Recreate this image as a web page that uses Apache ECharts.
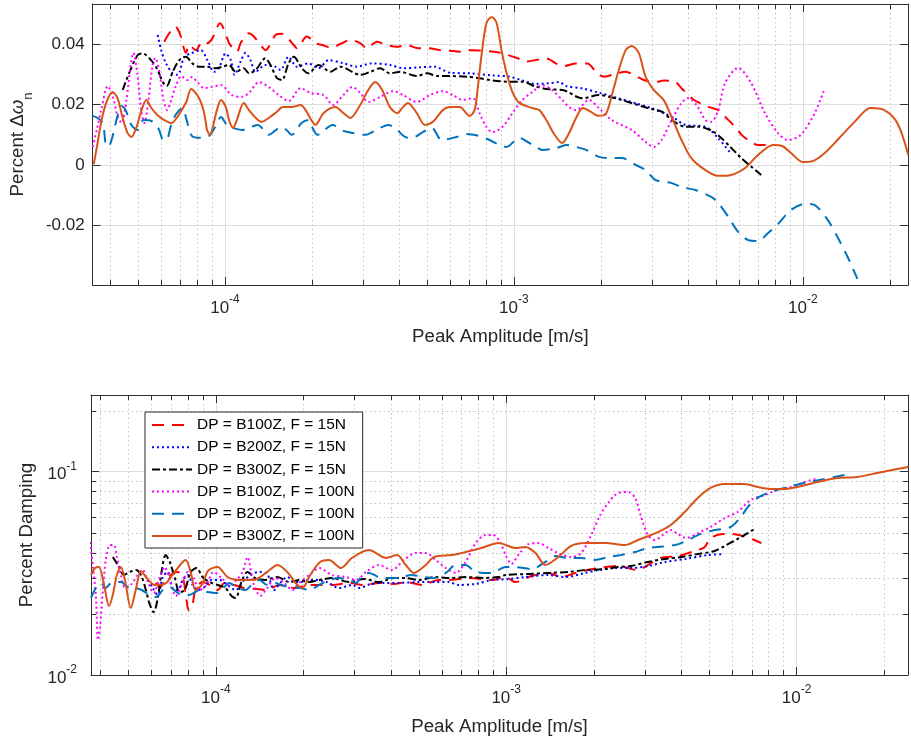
<!DOCTYPE html>
<html>
<head>
<meta charset="utf-8">
<script src="https://cdn.jsdelivr.net/npm/echarts@6/dist/echarts.min.js"></script>
<style>
  html, body { margin: 0; padding: 0; background: #ffffff; }
  #chart { width: 911px; height: 744px; }
</style>
</head>
<body>
<div id="chart"></div>
<script>
// Legend entries (damper package, forcing level)
const SERIES_NAMES = [
  'DP = B100Z, F = 15N', 'DP = B200Z, F = 15N', 'DP = B300Z, F = 15N',
  'DP = B100Z, F = 100N', 'DP = B200Z, F = 100N', 'DP = B300Z, F = 100N'
];

// ---- Upper panel: log10(peak amplitude [m/s]) and percent frequency shift ----
const topAmpB100F15 = [
  -4.210,-4.193,-4.172,-4.156,-4.135,-4.124,-4.101,-4.078,-4.061,-4.044,
  -4.017,-3.992,-3.986,-3.958,-3.946,-3.917,-3.900,-3.872,-3.860,-3.825,
  -3.803,-3.762,-3.751,-3.717,-3.705,-3.687,-3.664,-3.635,-3.595,-3.566,
  -3.532,-3.509,-3.474,-3.446,-3.406,-3.371,-3.331,-3.297,-3.256,-3.222,
  -3.188,-3.159,-3.067,-3.039,-2.987,-2.958,-2.912,-2.884,-2.855,-2.826,
  -2.786,-2.746,-2.712,-2.688,-2.643,-2.614,-2.574,-2.545,-2.505,-2.482,
  -2.442,-2.419,-2.384,-2.367,-2.327,-2.293,-2.264,-2.241,-2.212,-2.189,
  -2.155,-2.120];
const topShiftB100F15 = [
  0.0409,0.0437,0.0459,0.0435,0.0372,0.0398,0.0381,0.0409,0.0404,0.0420,
  0.0470,0.0420,0.0404,0.0376,0.0404,0.0437,0.0426,0.0392,0.0381,0.0431,
  0.0435,0.0398,0.0387,0.0426,0.0420,0.0404,0.0398,0.0390,0.0404,0.0415,
  0.0404,0.0387,0.0409,0.0400,0.0392,0.0398,0.0387,0.0387,0.0381,0.0379,
  0.0376,0.0381,0.0376,0.0370,0.0354,0.0343,0.0350,0.0352,0.0337,0.0328,
  0.0337,0.0337,0.0304,0.0293,0.0304,0.0309,0.0293,0.0280,0.0276,0.0280,
  0.0276,0.0254,0.0221,0.0210,0.0193,0.0182,0.0155,0.0133,0.0100,0.0083,
  0.0066,0.0066];

const topAmpB200F15 = [
  -4.233,-4.221,-4.204,-4.181,-4.164,-4.141,-4.118,-4.084,-4.061,-4.038,
  -4.021,-3.998,-3.980,-3.967,-3.946,-3.929,-3.912,-3.894,-3.860,-3.825,
  -3.808,-3.780,-3.751,-3.711,-3.676,-3.641,-3.589,-3.543,-3.492,-3.429,
  -3.383,-3.325,-3.274,-3.222,-3.153,-3.073,-3.015,-2.970,-2.924,-2.878,
  -2.843,-2.820,-2.763,-2.706,-2.637,-2.579,-2.522,-2.453,-2.407,-2.338,
  -2.293,-2.247];
const topShiftB200F15 = [
  0.0431,0.0381,0.0337,0.0304,0.0299,0.0359,0.0370,0.0381,0.0348,0.0309,
  0.0321,0.0370,0.0348,0.0299,0.0343,0.0372,0.0348,0.0309,0.0332,0.0326,
  0.0315,0.0359,0.0326,0.0337,0.0321,0.0348,0.0337,0.0326,0.0337,0.0332,
  0.0321,0.0324,0.0326,0.0306,0.0304,0.0297,0.0293,0.0280,0.0269,0.0271,
  0.0275,0.0262,0.0254,0.0240,0.0221,0.0205,0.0188,0.0160,0.0133,0.0127,
  0.0089,0.0036];

const topAmpB300F15 = [
  -4.354,-4.330,-4.302,-4.285,-4.256,-4.233,-4.216,-4.202,-4.181,-4.158,
  -4.135,-4.113,-4.090,-4.066,-4.032,-4.009,-3.986,-3.963,-3.935,-3.917,
  -3.894,-3.860,-3.843,-3.820,-3.803,-3.780,-3.762,-3.734,-3.711,-3.676,
  -3.635,-3.601,-3.532,-3.497,-3.463,-3.429,-3.394,-3.337,-3.302,-3.262,
  -3.222,-3.165,-3.119,-3.073,-3.015,-2.970,-2.924,-2.878,-2.832,-2.763,
  -2.706,-2.648,-2.591,-2.534,-2.488,-2.453,-2.407,-2.361,-2.316,-2.287,
  -2.252,-2.212,-2.178,-2.144];
const topShiftB300F15 = [
  0.0249,0.0309,0.0365,0.0370,0.0348,0.0315,0.0276,0.0262,0.0309,0.0348,
  0.0359,0.0337,0.0326,0.0326,0.0321,0.0326,0.0332,0.0309,0.0321,0.0304,
  0.0315,0.0354,0.0332,0.0288,0.0282,0.0337,0.0359,0.0321,0.0304,0.0332,
  0.0309,0.0326,0.0299,0.0309,0.0321,0.0304,0.0309,0.0295,0.0304,0.0295,
  0.0295,0.0293,0.0288,0.0280,0.0276,0.0276,0.0260,0.0251,0.0249,0.0221,
  0.0232,0.0221,0.0205,0.0188,0.0177,0.0149,0.0127,0.0127,0.0114,0.0094,
  0.0061,0.0022,-0.0006,-0.0033];

const topAmpB100F100 = [
  -4.458,-4.444,-4.427,-4.406,-4.389,-4.372,-4.358,-4.341,-4.327,-4.317,
  -4.303,-4.289,-4.279,-4.265,-4.251,-4.241,-4.227,-4.213,-4.200,-4.186,
  -4.169,-4.151,-4.131,-4.114,-4.096,-4.072,-4.048,-4.014,-3.976,-3.941,
  -3.917,-3.883,-3.849,-3.814,-3.780,-3.738,-3.704,-3.659,-3.625,-3.590,
  -3.559,-3.532,-3.504,-3.463,-3.418,-3.384,-3.336,-3.291,-3.246,-3.212,
  -3.177,-3.143,-3.119,-3.095,-3.074,-3.040,-3.005,-2.971,-2.936,-2.902,
  -2.868,-2.833,-2.809,-2.785,-2.740,-2.706,-2.661,-2.592,-2.544,-2.516,
  -2.489,-2.454,-2.420,-2.396,-2.368,-2.337,-2.317,-2.293,-2.269,-2.224,
  -2.179,-2.131,-2.086,-2.052,-2.007,-1.959,-1.924];
const topShiftB100F100 = [
  0.0060,0.0116,0.0189,0.0262,0.0229,0.0163,0.0139,0.0216,0.0328,0.0372,
  0.0299,0.0176,0.0139,0.0216,0.0328,0.0355,0.0308,0.0216,0.0182,0.0216,
  0.0265,0.0295,0.0282,0.0292,0.0275,0.0255,0.0259,0.0265,0.0232,0.0226,
  0.0239,0.0275,0.0259,0.0232,0.0212,0.0255,0.0239,0.0232,0.0199,0.0232,
  0.0259,0.0239,0.0209,0.0226,0.0245,0.0232,0.0209,0.0232,0.0245,0.0232,
  0.0216,0.0222,0.0172,0.0126,0.0109,0.0126,0.0172,0.0216,0.0242,0.0265,
  0.0249,0.0216,0.0192,0.0182,0.0216,0.0189,0.0149,0.0116,0.0076,0.0060,
  0.0083,0.0149,0.0206,0.0222,0.0199,0.0149,0.0143,0.0182,0.0272,0.0322,
  0.0272,0.0172,0.0106,0.0083,0.0100,0.0172,0.0255];

const topAmpB200F100 = [
  -4.458,-4.441,-4.423,-4.410,-4.399,-4.386,-4.372,-4.358,-4.344,-4.324,
  -4.303,-4.282,-4.255,-4.231,-4.213,-4.200,-4.186,-4.169,-4.148,-4.131,
  -4.114,-4.083,-4.055,-4.034,-4.014,-3.993,-3.972,-3.941,-3.910,-3.886,
  -3.866,-3.849,-3.828,-3.807,-3.787,-3.769,-3.735,-3.711,-3.697,-3.680,
  -3.656,-3.628,-3.590,-3.556,-3.515,-3.477,-3.435,-3.404,-3.377,-3.353,
  -3.315,-3.284,-3.250,-3.198,-3.163,-3.119,-3.084,-3.050,-3.026,-2.981,
  -2.947,-2.923,-2.902,-2.854,-2.819,-2.785,-2.750,-2.706,-2.661,-2.627,
  -2.578,-2.544,-2.509,-2.454,-2.420,-2.372,-2.317,-2.293,-2.258,-2.224,
  -2.189,-2.155,-2.121,-2.086,-2.041,-1.993,-1.959,-1.914,-1.880,-1.845,
  -1.811];
const topShiftB200F100 = [
  0.0163,0.0156,0.0139,0.0063,0.0066,0.0106,0.0163,0.0196,0.0182,0.0133,
  0.0116,0.0149,0.0146,0.0123,0.0083,0.0086,0.0133,0.0169,0.0189,0.0143,
  0.0096,0.0090,0.0096,0.0126,0.0159,0.0133,0.0123,0.0116,0.0126,0.0133,
  0.0116,0.0100,0.0113,0.0126,0.0116,0.0100,0.0139,0.0149,0.0123,0.0100,
  0.0116,0.0133,0.0113,0.0106,0.0100,0.0116,0.0133,0.0116,0.0093,0.0090,
  0.0109,0.0123,0.0083,0.0093,0.0103,0.0096,0.0083,0.0066,0.0060,0.0090,
  0.0073,0.0060,0.0050,0.0056,0.0066,0.0060,0.0050,0.0027,0.0023,0.0023,
  0.0000,-0.0017,-0.0050,-0.0060,-0.0073,-0.0083,-0.0106,-0.0126,-0.0172,-0.0222,
  -0.0249,-0.0252,-0.0226,-0.0196,-0.0149,-0.0129,-0.0133,-0.0182,-0.0239,-0.0305,
  -0.0378];

const topAmpB300F100 = [
  -4.454,-4.441,-4.427,-4.410,-4.389,-4.372,-4.355,-4.337,-4.324,-4.306,
  -4.289,-4.272,-4.255,-4.234,-4.210,-4.186,-4.165,-4.134,-4.117,-4.090,
  -4.072,-4.062,-4.052,-4.038,-4.028,-4.014,-3.997,-3.986,-3.972,-3.959,
  -3.935,-3.917,-3.893,-3.873,-3.849,-3.821,-3.800,-3.769,-3.738,-3.721,
  -3.701,-3.687,-3.659,-3.618,-3.590,-3.566,-3.532,-3.504,-3.480,-3.456,
  -3.429,-3.404,-3.384,-3.367,-3.336,-3.308,-3.281,-3.246,-3.222,-3.188,
  -3.153,-3.136,-3.126,-3.112,-3.095,-3.077,-3.060,-3.043,-3.026,-3.005,
  -2.981,-2.936,-2.912,-2.888,-2.861,-2.833,-2.809,-2.785,-2.761,-2.733,
  -2.709,-2.682,-2.661,-2.637,-2.613,-2.592,-2.568,-2.544,-2.516,-2.482,
  -2.454,-2.420,-2.386,-2.337,-2.293,-2.248,-2.200,-2.155,-2.103,-2.072,
  -2.041,-2.000,-1.966,-1.924,-1.880,-1.821,-1.766,-1.718,-1.673,-1.635];
const topShiftB300F100 = [
  0.0003,0.0073,0.0149,0.0209,0.0242,0.0222,0.0159,0.0106,0.0093,0.0126,
  0.0182,0.0216,0.0189,0.0166,0.0149,0.0139,0.0159,0.0209,0.0252,0.0222,
  0.0172,0.0116,0.0100,0.0143,0.0182,0.0216,0.0192,0.0149,0.0123,0.0149,
  0.0206,0.0182,0.0156,0.0143,0.0156,0.0176,0.0192,0.0192,0.0199,0.0182,
  0.0149,0.0133,0.0172,0.0192,0.0172,0.0156,0.0199,0.0249,0.0275,0.0249,
  0.0192,0.0172,0.0192,0.0206,0.0172,0.0133,0.0143,0.0182,0.0192,0.0192,
  0.0163,0.0182,0.0249,0.0365,0.0471,0.0491,0.0471,0.0381,0.0308,0.0242,
  0.0206,0.0189,0.0182,0.0149,0.0103,0.0073,0.0106,0.0156,0.0189,0.0176,
  0.0163,0.0169,0.0232,0.0315,0.0381,0.0395,0.0372,0.0292,0.0249,0.0216,
  0.0159,0.0083,0.0023,-0.0017,-0.0036,-0.0033,-0.0010,0.0033,0.0066,0.0063,
  0.0040,0.0010,0.0013,0.0040,0.0083,0.0143,0.0189,0.0182,0.0139,0.0033];

// ---- Lower panel: log10(peak amplitude [m/s]) and log10(percent damping) ----
const botAmpB100F15 = [
  -4.207,-4.193,-4.173,-4.152,-4.131,-4.114,-4.101,-4.094,-4.083,-4.070,
  -4.046,-4.022,-3.994,-3.970,-3.936,-3.902,-3.857,-3.826,-3.781,-3.730,
  -3.678,-3.644,-3.600,-3.541,-3.490,-3.438,-3.387,-3.342,-3.291,-3.232,
  -3.198,-3.129,-3.050,-3.002,-2.968,-2.913,-2.855,-2.810,-2.752,-2.683,
  -2.615,-2.546,-2.512,-2.467,-2.409,-2.340,-2.316,-2.296,-2.254,-2.220,
  -2.186,-2.145,-2.121];
const botDampB100F15 = [
  -1.547,-1.567,-1.533,-1.503,-1.493,-1.518,-1.631,-1.680,-1.670,-1.582,
  -1.543,-1.557,-1.582,-1.547,-1.557,-1.572,-1.577,-1.582,-1.557,-1.572,
  -1.557,-1.557,-1.557,-1.547,-1.557,-1.547,-1.552,-1.543,-1.557,-1.533,
  -1.533,-1.523,-1.533,-1.518,-1.543,-1.513,-1.498,-1.518,-1.493,-1.474,
  -1.464,-1.484,-1.459,-1.424,-1.415,-1.385,-1.370,-1.326,-1.306,-1.306,
  -1.316,-1.336,-1.351];

const botAmpB200F15 = [
  -4.234,-4.217,-4.200,-4.183,-4.166,-4.149,-4.131,-4.114,-4.097,-4.080,
  -4.063,-4.039,-4.015,-3.987,-3.960,-3.932,-3.902,-3.874,-3.850,-3.823,
  -3.799,-3.778,-3.754,-3.730,-3.709,-3.678,-3.651,-3.617,-3.576,-3.531,
  -3.507,-3.466,-3.421,-3.370,-3.301,-3.243,-3.198,-3.164,-3.105,-3.050,
  -2.992,-2.934,-2.855,-2.797,-2.728,-2.683,-2.625,-2.570,-2.512,-2.453,
  -2.381,-2.306,-2.251];
const botDampB200F15 = [
  -1.533,-1.572,-1.607,-1.518,-1.493,-1.572,-1.582,-1.533,-1.508,-1.557,
  -1.582,-1.567,-1.533,-1.533,-1.557,-1.582,-1.533,-1.503,-1.493,-1.503,
  -1.582,-1.547,-1.518,-1.543,-1.543,-1.533,-1.533,-1.543,-1.572,-1.557,
  -1.572,-1.552,-1.547,-1.547,-1.543,-1.543,-1.543,-1.557,-1.552,-1.533,
  -1.528,-1.518,-1.508,-1.518,-1.498,-1.484,-1.474,-1.474,-1.464,-1.444,
  -1.429,-1.410,-1.405];

const botAmpB300F15 = [
  -4.355,-4.337,-4.317,-4.296,-4.276,-4.258,-4.241,-4.228,-4.214,-4.200,
  -4.186,-4.173,-4.159,-4.142,-4.125,-4.107,-4.087,-4.066,-4.046,-4.022,
  -3.994,-3.967,-3.946,-3.932,-3.912,-3.891,-3.864,-3.833,-3.788,-3.747,
  -3.713,-3.678,-3.644,-3.600,-3.541,-3.490,-3.438,-3.387,-3.346,-3.301,
  -3.243,-3.198,-3.140,-3.078,-3.026,-3.002,-2.923,-2.855,-2.786,-2.728,
  -2.659,-2.615,-2.570,-2.512,-2.453,-2.398,-2.340,-2.282,-2.247,-2.203,
  -2.168,-2.145];
const botDampB300F15 = [
  -1.420,-1.459,-1.508,-1.493,-1.484,-1.508,-1.582,-1.651,-1.690,-1.621,
  -1.484,-1.410,-1.444,-1.518,-1.592,-1.582,-1.493,-1.474,-1.518,-1.543,
  -1.557,-1.572,-1.611,-1.621,-1.543,-1.493,-1.523,-1.533,-1.518,-1.543,
  -1.533,-1.543,-1.533,-1.523,-1.543,-1.528,-1.543,-1.523,-1.523,-1.533,
  -1.518,-1.523,-1.518,-1.523,-1.518,-1.508,-1.503,-1.498,-1.493,-1.484,
  -1.479,-1.469,-1.464,-1.444,-1.429,-1.420,-1.405,-1.390,-1.365,-1.331,
  -1.302,-1.282];

const botAmpB100F100 = [
  -4.433,-4.423,-4.413,-4.406,-4.399,-4.389,-4.379,-4.365,-4.351,-4.341,
  -4.327,-4.313,-4.293,-4.269,-4.252,-4.234,-4.214,-4.193,-4.176,-4.159,
  -4.138,-4.118,-4.097,-4.077,-4.056,-4.032,-4.008,-3.980,-3.953,-3.929,
  -3.908,-3.891,-3.871,-3.847,-3.823,-3.795,-3.764,-3.737,-3.713,-3.678,
  -3.644,-3.600,-3.551,-3.517,-3.483,-3.438,-3.394,-3.352,-3.311,-3.277,
  -3.243,-3.208,-3.174,-3.140,-3.105,-3.071,-3.044,-3.020,-2.999,-2.982,
  -2.958,-2.923,-2.889,-2.855,-2.821,-2.776,-2.742,-2.707,-2.676,-2.649,
  -2.625,-2.601,-2.580,-2.556,-2.536,-2.512,-2.488,-2.460,-2.433,-2.409,
  -2.381,-2.340,-2.296,-2.247,-2.203,-2.158,-2.110,-2.066,-2.021,-1.973,
  -1.935];
const botDampB100F100 = [
  -1.346,-1.469,-1.616,-1.828,-1.769,-1.582,-1.434,-1.361,-1.361,-1.420,
  -1.508,-1.572,-1.557,-1.508,-1.484,-1.543,-1.597,-1.518,-1.469,-1.533,
  -1.611,-1.557,-1.493,-1.523,-1.582,-1.557,-1.493,-1.523,-1.557,-1.533,
  -1.493,-1.420,-1.547,-1.611,-1.572,-1.523,-1.547,-1.582,-1.547,-1.508,
  -1.474,-1.508,-1.518,-1.533,-1.493,-1.459,-1.484,-1.434,-1.400,-1.400,
  -1.434,-1.474,-1.498,-1.444,-1.351,-1.311,-1.311,-1.351,-1.420,-1.454,
  -1.410,-1.356,-1.351,-1.375,-1.400,-1.420,-1.400,-1.311,-1.213,-1.154,
  -1.115,-1.100,-1.100,-1.129,-1.218,-1.311,-1.336,-1.311,-1.287,-1.306,
  -1.326,-1.302,-1.272,-1.228,-1.198,-1.139,-1.115,-1.090,-1.075,-1.051,
  -1.036];

const botAmpB200F100 = [
  -4.430,-4.413,-4.396,-4.379,-4.365,-4.348,-4.327,-4.303,-4.279,-4.255,
  -4.228,-4.204,-4.183,-4.159,-4.135,-4.107,-4.083,-4.056,-4.028,-3.998,
  -3.974,-3.953,-3.926,-3.898,-3.877,-3.850,-3.823,-3.799,-3.764,-3.737,
  -3.709,-3.678,-3.644,-3.610,-3.576,-3.541,-3.517,-3.497,-3.473,-3.428,
  -3.370,-3.328,-3.284,-3.249,-3.208,-3.174,-3.140,-3.105,-3.050,-3.002,
  -2.968,-2.913,-2.865,-2.831,-2.786,-2.742,-2.694,-2.649,-2.604,-2.556,
  -2.512,-2.477,-2.419,-2.381,-2.330,-2.282,-2.227,-2.192,-2.168,-2.134,
  -2.100,-2.042,-1.973,-1.904,-1.815];
const botDampB200F100 = [
  -1.621,-1.572,-1.547,-1.572,-1.552,-1.543,-1.543,-1.567,-1.572,-1.582,
  -1.607,-1.616,-1.582,-1.567,-1.592,-1.611,-1.602,-1.582,-1.592,-1.597,
  -1.572,-1.547,-1.572,-1.582,-1.557,-1.533,-1.557,-1.547,-1.562,-1.567,
  -1.572,-1.582,-1.557,-1.533,-1.523,-1.533,-1.547,-1.513,-1.498,-1.523,
  -1.523,-1.508,-1.518,-1.523,-1.498,-1.459,-1.459,-1.493,-1.498,-1.469,
  -1.469,-1.479,-1.444,-1.415,-1.424,-1.424,-1.434,-1.420,-1.410,-1.395,
  -1.375,-1.370,-1.361,-1.341,-1.306,-1.287,-1.272,-1.223,-1.174,-1.129,
  -1.105,-1.080,-1.056,-1.036,-1.011];

const botAmpB300F100 = [
  -4.430,-4.416,-4.403,-4.385,-4.368,-4.355,-4.341,-4.327,-4.313,-4.293,
  -4.276,-4.258,-4.238,-4.210,-4.176,-4.142,-4.104,-4.087,-4.070,-4.049,
  -4.025,-3.994,-3.960,-3.926,-3.871,-3.823,-3.788,-3.754,-3.726,-3.702,
  -3.675,-3.641,-3.610,-3.569,-3.531,-3.473,-3.414,-3.376,-3.346,-3.318,
  -3.277,-3.249,-3.188,-3.140,-3.085,-3.026,-2.968,-2.934,-2.899,-2.865,
  -2.821,-2.776,-2.728,-2.659,-2.591,-2.546,-2.477,-2.433,-2.385,-2.340,
  -2.296,-2.247,-2.179,-2.134,-2.090,-2.042,-1.997,-1.928,-1.860,-1.791,
  -1.722,-1.654,-1.616];
const botDampB300F100 = [
  -1.508,-1.474,-1.469,-1.557,-1.661,-1.607,-1.508,-1.469,-1.533,-1.670,
  -1.582,-1.488,-1.523,-1.557,-1.552,-1.493,-1.434,-1.493,-1.582,-1.557,
  -1.484,-1.469,-1.518,-1.533,-1.533,-1.493,-1.459,-1.493,-1.547,-1.572,
  -1.508,-1.444,-1.434,-1.474,-1.424,-1.385,-1.424,-1.410,-1.459,-1.498,
  -1.459,-1.420,-1.410,-1.395,-1.375,-1.351,-1.375,-1.370,-1.400,-1.459,
  -1.420,-1.365,-1.351,-1.351,-1.361,-1.336,-1.297,-1.262,-1.198,-1.129,
  -1.080,-1.061,-1.061,-1.075,-1.085,-1.085,-1.075,-1.051,-1.031,-1.026,
  -1.006,-0.987,-0.977];

// Axis limits
const TOP_AMP_RANGE = [3.483e-5, 2.312e-2];
const BOT_AMP_RANGE = [3.715e-5, 2.421e-2];
const SHIFT_RANGE = [-0.0398, 0.0534];
const DAMP_RANGE = [0.01, 0.2384];

// Minor grid positions of the log axes
const AMP_MINOR = [4e-5, 5e-5, 6e-5, 7e-5, 8e-5, 9e-5,
  2e-4, 3e-4, 4e-4, 5e-4, 6e-4, 7e-4, 8e-4, 9e-4,
  2e-3, 3e-3, 4e-3, 5e-3, 6e-3, 7e-3, 8e-3, 9e-3, 2e-2];
const DAMP_MINOR = [0.02, 0.03, 0.04, 0.05, 0.06, 0.07, 0.08, 0.09, 0.2];

// Line appearance per series
const COLORS = ['#ff0000', '#0000ff', '#000000', '#ff00ff', '#0072bd', '#d95319'];
const DASHES = [[12, 8], [2, 3], [8, 3, 3, 3], [2, 3], [12, 8], 'solid'];

const FONT = "'Liberation Sans', Arial, Helvetica, sans-serif";
const INK = '#262626';
const FRAME = '#303030';
const GRID_MAJOR = '#dedede';
const GRID_MINOR = '#c2c2c2';

const TOP_X = [topAmpB100F15, topAmpB200F15, topAmpB300F15, topAmpB100F100, topAmpB200F100, topAmpB300F100];
const TOP_Y = [topShiftB100F15, topShiftB200F15, topShiftB300F15, topShiftB100F100, topShiftB200F100, topShiftB300F100];
const BOT_X = [botAmpB100F15, botAmpB200F15, botAmpB300F15, botAmpB100F100, botAmpB200F100, botAmpB300F100];
const BOT_Y = [botDampB100F15, botDampB200F15, botDampB300F15, botDampB100F100, botDampB200F100, botDampB300F100];

const powLabel = (v) => {
  const e = Math.log10(v);
  const r = Math.round(e);
  return Math.abs(e - r) < 1e-6 ? '{b|10}{s|' + r + '}' : '';
};
const powRich = {
  b: { fontFamily: FONT, fontSize: 17, color: INK, padding: [6, 0, 0, 0], verticalAlign: 'bottom' },
  s: { fontFamily: FONT, fontSize: 12, color: INK, verticalAlign: 'top' }
};
const shiftLabel = (v) => {
  const k = Math.round(v / 0.02);
  if (Math.abs(v - k * 0.02) > 1e-9) return '';
  return k === 0 ? '0' : (k * 0.02).toFixed(2);
};

function ampAxis(gridIndex, range, position, main) {
  return {
    type: 'log', logBase: 10, gridIndex, position,
    min: range[0], max: range[1],
    axisLine: { show: true, onZero: false, lineStyle: { color: FRAME, width: 1 } },
    axisTick: { show: true, inside: true, length: 8, lineStyle: { color: FRAME } },
    axisLabel: main ? { show: true, margin: 9, formatter: powLabel, rich: powRich } : { show: false },
    splitLine: { show: main, lineStyle: { color: GRID_MAJOR, width: 1 } },
    name: main ? 'Peak Amplitude [m/s]' : '',
    nameLocation: 'middle', nameGap: 42,
    nameTextStyle: { fontFamily: FONT, fontSize: 18.7, color: INK }
  };
}

function shiftAxis(position, main) {
  return {
    type: 'value', gridIndex: 0, position,
    min: SHIFT_RANGE[0], max: SHIFT_RANGE[1], splitNumber: 5,
    axisLine: { show: true, onZero: false, lineStyle: { color: FRAME, width: 1 } },
    axisTick: { show: true, inside: true, length: 8, lineStyle: { color: FRAME } },
    axisLabel: main ? { show: true, margin: 8, formatter: shiftLabel, fontFamily: FONT, fontSize: 17, color: INK } : { show: false },
    splitLine: { show: main, lineStyle: { color: GRID_MAJOR, width: 1 } },
    name: main ? '{t|Percent Δ}{w|ω}{n|n}' : '',
    nameLocation: 'middle', nameGap: 54, nameRotate: 90,
    nameTextStyle: {
      fontFamily: FONT, fontSize: 18.7, color: INK,
      rich: {
        t: { fontFamily: FONT, fontSize: 18.7, color: INK, padding: [0, 0, 8, 0], verticalAlign: 'top' },
        w: { fontFamily: FONT, fontSize: 18.7, color: INK, fontStyle: 'italic', padding: [0, 0, 8, 0], verticalAlign: 'top' },
        n: { fontFamily: FONT, fontSize: 13, color: INK, verticalAlign: 'bottom' }
      }
    }
  };
}

function dampAxis(position, main) {
  return {
    type: 'log', logBase: 10, gridIndex: 1, position,
    min: DAMP_RANGE[0], max: DAMP_RANGE[1],
    axisLine: { show: true, onZero: false, lineStyle: { color: FRAME, width: 1 } },
    axisTick: { show: true, inside: true, length: 8, lineStyle: { color: FRAME } },
    axisLabel: main ? { show: true, margin: 14, formatter: powLabel, rich: powRich } : { show: false },
    splitLine: { show: main, lineStyle: { color: GRID_MAJOR, width: 1 } },
    name: main ? 'Percent Damping' : '',
    nameLocation: 'middle', nameGap: 47, nameRotate: 90,
    nameTextStyle: { fontFamily: FONT, fontSize: 18.7, color: INK }
  };
}

// Dotted minor grid lines plus short inward minor ticks on all four sides
function minorGrid(axisIndex, xMinor, yMinor, yRef, xRef) {
  const data = xMinor.map((v) => [v, yRef, 0]).concat(yMinor.map((v) => [xRef, v, 1]));
  return {
    type: 'custom', xAxisIndex: axisIndex, yAxisIndex: axisIndex,
    silent: true, z: 1, animation: false, data,
    renderItem(params, api) {
      const cs = params.coordSys;
      const p = api.coord([api.value(0), api.value(1)]);
      const dotted = { stroke: GRID_MINOR, lineWidth: 1, lineDash: [1.5, 3] };
      const tick = { stroke: FRAME, lineWidth: 1 };
      if (api.value(2) === 0) {
        const x = Math.round(p[0]) + 0.5;
        const y0 = cs.y, y1 = cs.y + cs.height;
        return { type: 'group', children: [
          { type: 'line', shape: { x1: x, y1: y0, x2: x, y2: y1 }, style: dotted },
          { type: 'line', shape: { x1: x, y1: y1, x2: x, y2: y1 - 5 }, style: tick },
          { type: 'line', shape: { x1: x, y1: y0, x2: x, y2: y0 + 5 }, style: tick }
        ] };
      }
      const y = Math.round(p[1]) + 0.5;
      const x0 = cs.x, x1 = cs.x + cs.width;
      return { type: 'group', children: [
        { type: 'line', shape: { x1: x0, y1: y, x2: x1, y2: y }, style: dotted },
        { type: 'line', shape: { x1: x0, y1: y, x2: x0 + 5, y2: y }, style: tick },
        { type: 'line', shape: { x1: x1, y1: y, x2: x1 - 5, y2: y }, style: tick }
      ] };
    }
  };
}

function curve(i, axisIndex, xs, ys, logY) {
  const n = Math.min(xs.length, ys.length);
  const data = [];
  for (let k = 0; k < n; k++) {
    data.push([Math.pow(10, xs[k]), logY ? Math.pow(10, ys[k]) : ys[k]]);
  }
  return {
    name: SERIES_NAMES[i], type: 'line', xAxisIndex: axisIndex, yAxisIndex: axisIndex,
    data, symbol: 'none', showSymbol: false, smooth: 0.3, clip: true,
    lineStyle: { color: COLORS[i], width: 2, type: DASHES[i], cap: 'butt' },
    itemStyle: { color: COLORS[i] },
    emphasis: { disabled: true }, animation: false, z: 2 + i * 0.01
  };
}

const series = [minorGrid(0, AMP_MINOR, [], 0, 1e-3), minorGrid(2, AMP_MINOR, DAMP_MINOR, 0.05, 1e-3)];
for (let i = 0; i < SERIES_NAMES.length; i++) series.push(curve(i, 0, TOP_X[i], TOP_Y[i], false));
for (let i = 0; i < SERIES_NAMES.length; i++) series.push(curve(i, 2, BOT_X[i], BOT_Y[i], true));

const option = {
  backgroundColor: '#ffffff',
  animation: false,
  grid: [
    { left: 91, top: 4, width: 819, height: 281, containLabel: false },
    { left: 91, top: 395, width: 819, height: 280, containLabel: false }
  ],
  xAxis: [
    ampAxis(0, TOP_AMP_RANGE, 'bottom', true),
    ampAxis(0, TOP_AMP_RANGE, 'top', false),
    ampAxis(1, BOT_AMP_RANGE, 'bottom', true),
    ampAxis(1, BOT_AMP_RANGE, 'top', false)
  ],
  yAxis: [
    shiftAxis('left', true),
    shiftAxis('right', false),
    dampAxis('left', true),
    dampAxis('right', false)
  ],
  legend: {
    data: SERIES_NAMES,
    orient: 'vertical', left: 145, top: 412,
    backgroundColor: '#ffffff', borderColor: '#262626', borderWidth: 1, borderRadius: 0,
    padding: [5, 8, 4, 6],
    itemWidth: 40, itemHeight: 16, itemGap: 6.2,
    selectedMode: false,
    itemStyle: { opacity: 0, borderWidth: 0 },
    textStyle: { fontFamily: FONT, fontSize: 15.5, color: '#000000', lineHeight: 16 }
  },
  series
};

const chart = echarts.init(document.getElementById('chart'), null, { renderer: 'canvas' });
chart.setOption(option);
</script>
</body>
</html>
